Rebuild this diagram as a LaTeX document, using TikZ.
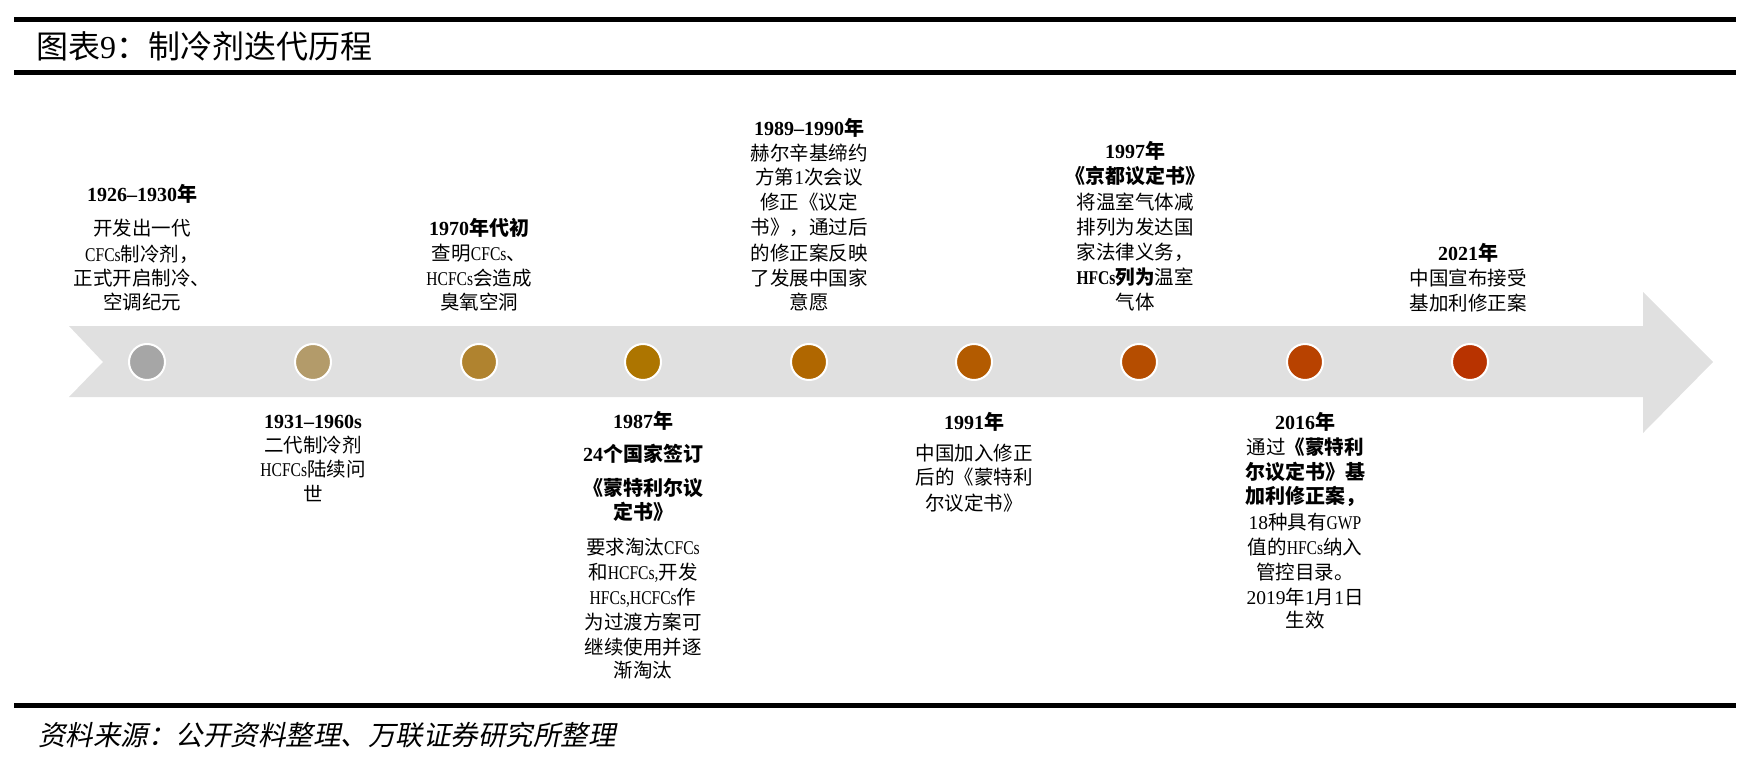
\documentclass[tikz,border=0pt]{standalone}
\usepackage{fontspec}
\setmainfont{Noto Sans CJK SC}
\newfontfamily\enfont{Liberation Serif}
\newfontfamily\enfontc{Liberation Serif}[FakeStretch=0.8]
\newfontfamily\kaifont{Noto Sans CJK SC}[FakeSlant=0.2]
\newcommand\en[1]{{\enfont #1}}
\newcommand\enc[1]{{\enfontc #1}}
\definecolor{arrowgray}{HTML}{E0E0E0}
\definecolor{c1}{HTML}{A6A6A6}
\definecolor{c2}{HTML}{B39B6A}
\definecolor{c3}{HTML}{B0832F}
\definecolor{c4}{HTML}{AD7500}
\definecolor{c5}{HTML}{B06700}
\definecolor{c6}{HTML}{B35B00}
\definecolor{c7}{HTML}{B54D00}
\definecolor{c8}{HTML}{B84200}
\definecolor{c9}{HTML}{B83300}
\tikzset{
  body/.style={anchor=base, inner sep=0pt, font=\fontsize{19.5}{24}\selectfont},
  yr/.style={anchor=base, inner sep=0pt, font=\fontsize{20}{24}\selectfont\bfseries},
  dot/.style={circle, minimum size=36pt, inner sep=0pt, draw=white, line width=2pt},
  rulebar/.style={line width=5pt},
}
\begin{document}
\begin{tikzpicture}[x=1pt,y=-1pt]
\useasboundingbox (0,0) rectangle (1761,762);
% rules
\coordinate (r1a) at (14,19.5); \coordinate (r1b) at (1736,19.5);
\coordinate (r2a) at (14,72.5); \coordinate (r2b) at (1736,72.5);
\coordinate (r3a) at (14,705.5); \coordinate (r3b) at (1736,705.5);
\draw[rulebar] (r1a) -- (r1b);
\draw[rulebar] (r2a) -- (r2b);
\draw[rulebar] (r3a) -- (r3b);
% title
\node[anchor=base west, inner sep=0pt, font=\fontsize{32}{36}\selectfont] (title) at (36,59) {图表\en{9}：制冷剂迭代历程};
% footer
\node[anchor=base west, inner sep=0pt, font=\fontsize{27.5}{30}\selectfont\kaifont] (src) at (38,745) {资料来源：公开资料整理、万联证券研究所整理};
% arrow
\fill[arrowgray] (69,326) -- (1643,326) -- (1643,292) -- (1713,362) -- (1643,433) -- (1643,397) -- (69,397) -- (103,362) -- cycle;
% dots
\foreach \x/\c [count=\i] in {147/c1,313/c2,479/c3,643/c4,809/c5,974/c6,1139/c7,1305/c8,1470/c9}
  \node[dot, fill=\c] (d\i) at (\x,362) {};
% block 1
\node[yr]   (a1) at (142,201) {\en{1926–1930}年};
\node[body] (a2) at (142,236) {开发出一代};
\node[body] (a3) at (142,261) {\enc{CFCs}制冷剂，};
\node[body] (a4) at (142,285) {正式开启制冷、};
\node[body] (a5) at (142,309) {空调纪元};
% block 3
\node[yr]   (c1n) at (479,235) {\en{1970}年代初};
\node[body] (c2n) at (479,260) {查明\enc{CFCs}、};
\node[body] (c3n) at (479,285) {\enc{HCFCs}会造成};
\node[body] (c4n) at (479,309) {臭氧空洞};
% block 5
\node[yr]   (e1) at (809,136) {\en{1989–1990}年};
\node[body] (e2) at (809,161) {赫尔辛基缔约};
\node[body] (e3) at (809,185) {方第\en{1}次会议};
\node[body] (e4) at (809,210) {修正《议定};
\node[body] (e5) at (809,234) {书》，通过后};
\node[body] (e6) at (809,260) {的修正案反映};
\node[body] (e7) at (809,285) {了发展中国家};
\node[body] (e8) at (809,309) {意愿};
% block 7
\node[yr]   (g1) at (1135,159) {\en{1997}年};
\node[yr]   (g2) at (1135,184) {《京都议定书》};
\node[body] (g3) at (1135,210) {将温室气体减};
\node[body] (g4) at (1135,234) {排列为发达国};
\node[body] (g5) at (1135,259) {家法律义务，};
\node[body] (g6) at (1135,284) {{\bfseries\enc{HFCs}列为}温室};
\node[body] (g7) at (1135,309) {气体};
% block 9
\node[yr]   (i1) at (1468,260) {\en{2021}年};
\node[body] (i2) at (1468,285) {中国宣布接受};
\node[body] (i3) at (1468,310) {基加利修正案};
% block 2
\node[yr]   (b1) at (313,428) {\en{1931–1960s}};
\node[body] (b2) at (313,452) {二代制冷剂};
\node[body] (b3) at (313,476) {\enc{HCFCs}陆续问};
\node[body] (b4) at (313,501) {世};
% block 4
\node[yr]   (f1) at (643,428) {\en{1987}年};
\node[yr]   (f2) at (643,461) {\en{24}个国家签订};
\node[yr]   (f3) at (643,495) {《蒙特利尔议};
\node[yr]   (f4) at (643,519) {定书》};
\node[body] (f5) at (643,554) {要求淘汰\enc{CFCs}};
\node[body] (f6) at (643,579) {和\enc{HCFCs,}开发};
\node[body] (f7) at (643,604) {\enc{HFCs,HCFCs}作};
\node[body] (f8) at (643,629) {为过渡方案可};
\node[body] (f9) at (643,654) {继续使用并逐};
\node[body] (f10) at (643,677) {渐淘汰};
% block 6
\node[yr]   (h1) at (974,429) {\en{1991}年};
\node[body] (h2) at (974,460) {中国加入修正};
\node[body] (h3) at (974,484) {后的《蒙特利};
\node[body] (h4) at (974,510) {尔议定书》};
% block 8
\node[yr]   (j1) at (1305,429) {\en{2016}年};
\node[body] (j2) at (1305,454) {通过{\bfseries《蒙特利}};
\node[yr]   (j3) at (1305,479) {尔议定书》基};
\node[yr]   (j4) at (1305,503) {加利修正案，};
\node[body] (j5) at (1305,529) {\en{18}种具有\enc{GWP}};
\node[body] (j6) at (1305,554) {值的\enc{HFCs}纳入};
\node[body] (j7) at (1305,579) {管控目录。};
\node[body] (j8) at (1305,604) {\en{2019}年\en{1}月\en{1}日};
\node[body] (j9) at (1305,627) {生效};
\end{tikzpicture}
\end{document}
